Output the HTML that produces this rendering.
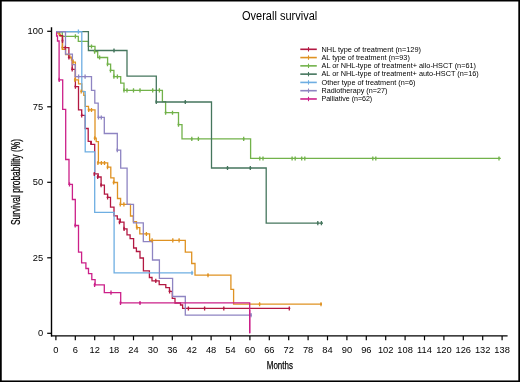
<!DOCTYPE html>
<html><head><meta charset="utf-8"><style>html,body{margin:0;padding:0;background:#fff;}svg{display:block;will-change:transform;}text{font-family:"Liberation Sans",sans-serif;}</style></head>
<body><svg width="520" height="382" viewBox="0 0 520 382" font-family="Liberation Sans, sans-serif" fill="#000"><rect x="0" y="0" width="520" height="1.5" fill="#000"/><rect x="0" y="0" width="1.75" height="382" fill="#000"/><rect x="518.3" y="0" width="1.7" height="382" fill="#000"/><rect x="0" y="380.45" width="520" height="1.55" fill="#000"/><text x="242" y="20.2" font-size="12.3" textLength="75.3" lengthAdjust="spacingAndGlyphs">Overall survival</text><line x1="51.5" y1="27.2" x2="51.5" y2="336.6" stroke="#000" stroke-width="1.4"/><line x1="51" y1="335.9" x2="507.6" y2="335.9" stroke="#000" stroke-width="1.3"/><line x1="47.2" y1="31.30" x2="51" y2="31.30" stroke="#000" stroke-width="1.2"/><text x="43.1" y="34.30" font-size="9.3" text-anchor="end">100</text><line x1="47.2" y1="106.80" x2="51" y2="106.80" stroke="#000" stroke-width="1.2"/><text x="43.1" y="109.80" font-size="9.3" text-anchor="end">75</text><line x1="47.2" y1="182.30" x2="51" y2="182.30" stroke="#000" stroke-width="1.2"/><text x="43.1" y="185.30" font-size="9.3" text-anchor="end">50</text><line x1="47.2" y1="257.80" x2="51" y2="257.80" stroke="#000" stroke-width="1.2"/><text x="43.1" y="260.80" font-size="9.3" text-anchor="end">25</text><line x1="47.2" y1="333.30" x2="51" y2="333.30" stroke="#000" stroke-width="1.2"/><text x="43.1" y="336.30" font-size="9.3" text-anchor="end">0</text><line x1="55.90" y1="336" x2="55.90" y2="340.3" stroke="#000" stroke-width="1.2"/><text x="55.90" y="352.8" font-size="9.3" text-anchor="middle">0</text><line x1="75.30" y1="336" x2="75.30" y2="340.3" stroke="#000" stroke-width="1.2"/><text x="75.30" y="352.8" font-size="9.3" text-anchor="middle">6</text><line x1="94.70" y1="336" x2="94.70" y2="340.3" stroke="#000" stroke-width="1.2"/><text x="94.70" y="352.8" font-size="9.3" text-anchor="middle">12</text><line x1="114.10" y1="336" x2="114.10" y2="340.3" stroke="#000" stroke-width="1.2"/><text x="114.10" y="352.8" font-size="9.3" text-anchor="middle">18</text><line x1="133.50" y1="336" x2="133.50" y2="340.3" stroke="#000" stroke-width="1.2"/><text x="133.50" y="352.8" font-size="9.3" text-anchor="middle">24</text><line x1="152.90" y1="336" x2="152.90" y2="340.3" stroke="#000" stroke-width="1.2"/><text x="152.90" y="352.8" font-size="9.3" text-anchor="middle">30</text><line x1="172.30" y1="336" x2="172.30" y2="340.3" stroke="#000" stroke-width="1.2"/><text x="172.30" y="352.8" font-size="9.3" text-anchor="middle">36</text><line x1="191.70" y1="336" x2="191.70" y2="340.3" stroke="#000" stroke-width="1.2"/><text x="191.70" y="352.8" font-size="9.3" text-anchor="middle">42</text><line x1="211.10" y1="336" x2="211.10" y2="340.3" stroke="#000" stroke-width="1.2"/><text x="211.10" y="352.8" font-size="9.3" text-anchor="middle">48</text><line x1="230.50" y1="336" x2="230.50" y2="340.3" stroke="#000" stroke-width="1.2"/><text x="230.50" y="352.8" font-size="9.3" text-anchor="middle">54</text><line x1="249.90" y1="336" x2="249.90" y2="340.3" stroke="#000" stroke-width="1.2"/><text x="249.90" y="352.8" font-size="9.3" text-anchor="middle">60</text><line x1="269.30" y1="336" x2="269.30" y2="340.3" stroke="#000" stroke-width="1.2"/><text x="269.30" y="352.8" font-size="9.3" text-anchor="middle">66</text><line x1="288.70" y1="336" x2="288.70" y2="340.3" stroke="#000" stroke-width="1.2"/><text x="288.70" y="352.8" font-size="9.3" text-anchor="middle">72</text><line x1="308.10" y1="336" x2="308.10" y2="340.3" stroke="#000" stroke-width="1.2"/><text x="308.10" y="352.8" font-size="9.3" text-anchor="middle">78</text><line x1="327.50" y1="336" x2="327.50" y2="340.3" stroke="#000" stroke-width="1.2"/><text x="327.50" y="352.8" font-size="9.3" text-anchor="middle">84</text><line x1="346.90" y1="336" x2="346.90" y2="340.3" stroke="#000" stroke-width="1.2"/><text x="346.90" y="352.8" font-size="9.3" text-anchor="middle">90</text><line x1="366.30" y1="336" x2="366.30" y2="340.3" stroke="#000" stroke-width="1.2"/><text x="366.30" y="352.8" font-size="9.3" text-anchor="middle">96</text><line x1="385.70" y1="336" x2="385.70" y2="340.3" stroke="#000" stroke-width="1.2"/><text x="385.70" y="352.8" font-size="9.3" text-anchor="middle">102</text><line x1="405.10" y1="336" x2="405.10" y2="340.3" stroke="#000" stroke-width="1.2"/><text x="405.10" y="352.8" font-size="9.3" text-anchor="middle">108</text><line x1="424.50" y1="336" x2="424.50" y2="340.3" stroke="#000" stroke-width="1.2"/><text x="424.50" y="352.8" font-size="9.3" text-anchor="middle">114</text><line x1="443.90" y1="336" x2="443.90" y2="340.3" stroke="#000" stroke-width="1.2"/><text x="443.90" y="352.8" font-size="9.3" text-anchor="middle">120</text><line x1="463.30" y1="336" x2="463.30" y2="340.3" stroke="#000" stroke-width="1.2"/><text x="463.30" y="352.8" font-size="9.3" text-anchor="middle">126</text><line x1="482.70" y1="336" x2="482.70" y2="340.3" stroke="#000" stroke-width="1.2"/><text x="482.70" y="352.8" font-size="9.3" text-anchor="middle">132</text><line x1="502.10" y1="336" x2="502.10" y2="340.3" stroke="#000" stroke-width="1.2"/><text x="502.10" y="352.8" font-size="9.3" text-anchor="middle">138</text><text x="266.8" y="369.2" font-size="11.5" textLength="26.1" lengthAdjust="spacingAndGlyphs" stroke="#000" stroke-width="0.25">Months</text><text transform="translate(20.3,225) rotate(-90)" x="0" y="0" font-size="12.3" textLength="86" lengthAdjust="spacingAndGlyphs" stroke="#000" stroke-width="0.25">Survival probability (%)</text><line x1="300.3" y1="49.30" x2="316.8" y2="49.30" stroke="#b31842" stroke-width="1.6"/><line x1="308.5" y1="47.10" x2="308.5" y2="51.50" stroke="#b31842" stroke-width="1.1"/><text x="321.5" y="51.60" font-size="7.6" textLength="99.5" lengthAdjust="spacingAndGlyphs">NHL type of treatment (n=129)</text><line x1="300.3" y1="57.58" x2="316.8" y2="57.58" stroke="#df9222" stroke-width="1.6"/><line x1="308.5" y1="55.38" x2="308.5" y2="59.78" stroke="#df9222" stroke-width="1.1"/><text x="321.5" y="59.88" font-size="7.6" textLength="88.3" lengthAdjust="spacingAndGlyphs">AL type of treatment (n=93)</text><line x1="300.3" y1="65.86" x2="316.8" y2="65.86" stroke="#72b24a" stroke-width="1.6"/><line x1="308.5" y1="63.66" x2="308.5" y2="68.06" stroke="#72b24a" stroke-width="1.1"/><text x="321.5" y="68.16" font-size="7.6" textLength="154.5" lengthAdjust="spacingAndGlyphs">AL or NHL-type of treatment+ allo-HSCT (n=61)</text><line x1="300.3" y1="74.14" x2="316.8" y2="74.14" stroke="#45765d" stroke-width="1.6"/><line x1="308.5" y1="71.94" x2="308.5" y2="76.34" stroke="#45765d" stroke-width="1.1"/><text x="321.5" y="76.44" font-size="7.6" textLength="157.2" lengthAdjust="spacingAndGlyphs">AL or NHL-type of treatment+ auto-HSCT (n=16)</text><line x1="300.3" y1="82.42" x2="316.8" y2="82.42" stroke="#6eaee2" stroke-width="1.6"/><line x1="308.5" y1="80.22" x2="308.5" y2="84.62" stroke="#6eaee2" stroke-width="1.1"/><text x="321.5" y="84.72" font-size="7.6" textLength="94.0" lengthAdjust="spacingAndGlyphs">Other type of treatment (n=6)</text><line x1="300.3" y1="90.70" x2="316.8" y2="90.70" stroke="#8e84c2" stroke-width="1.6"/><line x1="308.5" y1="88.50" x2="308.5" y2="92.90" stroke="#8e84c2" stroke-width="1.1"/><text x="321.5" y="93.00" font-size="7.6" textLength="65.8" lengthAdjust="spacingAndGlyphs">Radiotherapy (n=27)</text><line x1="300.3" y1="98.98" x2="316.8" y2="98.98" stroke="#cc2089" stroke-width="1.6"/><line x1="308.5" y1="96.78" x2="308.5" y2="101.18" stroke="#cc2089" stroke-width="1.1"/><text x="321.5" y="101.28" font-size="7.6" textLength="50.7" lengthAdjust="spacingAndGlyphs">Palliative (n=62)</text><path d="M56.00,31.60 L59.60,31.60 L59.60,35.60 L62.50,35.60 L62.50,47.70 L68.90,47.70 L68.90,57.50 L72.20,57.50 L72.20,69.30 L75.40,69.30 L75.40,86.70 L78.50,86.70 L78.50,109.90 L81.70,109.90 L81.70,115.40 L85.20,115.40 L85.20,128.50 L88.20,128.50 L88.20,141.30 L91.20,141.30 L91.20,144.30 L94.70,144.30 L94.70,173.90 L98.20,173.90 L98.20,177.00 L101.10,177.00 L101.10,185.20 L104.40,185.20 L104.40,194.20 L107.60,194.20 L107.60,197.40 L110.50,197.40 L110.50,207.20 L114.00,207.20 L114.00,215.80 L117.30,215.80 L117.30,219.20 L120.30,219.20 L120.30,222.20 L124.00,222.20 L124.00,228.80 L127.00,228.80 L127.00,234.80 L130.10,234.80 L130.10,238.60 L133.60,238.60 L133.60,248.00 L136.40,248.00 L136.40,251.50 L140.00,251.50 L140.00,258.00 L143.40,258.00 L143.40,270.90 L149.40,270.90 L149.40,277.50 L152.00,277.50 L152.00,280.80 L159.20,280.80 L159.20,284.70 L165.80,284.70 L165.80,287.70 L169.50,287.70 L169.50,291.40 L172.30,291.40 L172.30,298.40 L175.00,298.40 L175.00,303.00 L180.50,303.00 L180.50,305.00 L182.60,305.00 L182.60,308.40 L289.70,308.40" fill="none" stroke="#b31842" stroke-width="1.3" stroke-linejoin="miter"/><path d="M56.00,31.60 L57.70,31.60 L57.70,33.00 L59.00,33.00 L59.00,34.50 L60.50,34.50 L60.50,36.00 L62.40,36.00 L62.40,49.40 L65.60,49.40 L65.60,54.60 L69.80,54.60 L69.80,57.50 L71.50,57.50 L71.50,60.00 L73.00,60.00 L73.00,62.10 L75.40,62.10 L75.40,79.90 L78.50,79.90 L78.50,83.80 L81.80,83.80 L81.80,91.40 L83.80,91.40 L83.80,95.30 L85.20,95.30 L85.20,106.40 L88.50,106.40 L88.50,109.90 L95.00,109.90 L95.00,138.20 L96.20,138.20 L96.20,141.70 L98.40,141.70 L98.40,162.90 L107.70,162.90 L107.70,167.20 L110.80,167.20 L110.80,177.80 L114.00,177.80 L114.00,182.50 L117.50,182.50 L117.50,198.50 L120.60,198.50 L120.60,204.30 L130.50,204.30 L130.50,216.00 L133.30,216.00 L133.30,221.70 L136.50,221.70 L136.50,227.60 L139.80,227.60 L139.80,233.90 L149.60,233.90 L149.60,240.30 L185.30,240.30 L185.30,252.20 L191.70,252.20 L191.70,263.50 L195.00,263.50 L195.00,275.20 L230.90,275.20 L230.90,289.40 L233.60,289.40 L233.60,304.20 L322.00,304.20" fill="none" stroke="#df9222" stroke-width="1.3" stroke-linejoin="miter"/><path d="M56.00,31.60 L62.30,31.60 L62.30,36.30 L78.30,36.30 L78.30,41.30 L88.40,41.30 L88.40,46.40 L95.00,46.40 L95.00,51.60 L97.70,51.60 L97.70,57.50 L107.60,57.50 L107.60,64.20 L110.60,64.20 L110.60,70.40 L113.90,70.40 L113.90,76.60 L120.70,76.60 L120.70,83.10 L124.00,83.10 L124.00,90.30 L162.40,90.30 L162.40,101.60 L165.60,101.60 L165.60,112.70 L178.50,112.70 L178.50,124.60 L182.00,124.60 L182.00,138.80 L250.60,138.80 L250.60,158.40 L500.80,158.40" fill="none" stroke="#72b24a" stroke-width="1.3" stroke-linejoin="miter"/><path d="M56.00,31.60 L88.40,31.60 L88.40,50.50 L127.00,50.50 L127.00,76.20 L156.30,76.20 L156.30,102.00 L211.50,102.00 L211.50,168.00 L266.20,168.00 L266.20,223.10 L323.00,223.10" fill="none" stroke="#45765d" stroke-width="1.3" stroke-linejoin="miter"/><path d="M56.00,31.60 L81.80,31.60 L81.80,91.70 L85.20,91.70 L85.20,151.80 L94.70,151.80 L94.70,212.30 L114.10,212.30 L114.10,272.80 L193.30,272.80" fill="none" stroke="#6eaee2" stroke-width="1.3" stroke-linejoin="miter"/><path d="M56.00,31.60 L65.50,31.60 L65.50,54.10 L72.40,54.10 L72.40,64.70 L75.30,64.70 L75.30,76.60 L91.50,76.60 L91.50,90.40 L94.80,90.40 L94.80,103.20 L98.20,103.20 L98.20,117.40 L104.30,117.40 L104.30,133.50 L117.30,133.50 L117.30,150.20 L120.70,150.20 L120.70,168.10 L127.10,168.10 L127.10,204.30 L133.50,204.30 L133.50,222.90 L143.30,222.90 L143.30,241.70 L152.50,241.70 L152.50,260.00 L159.40,260.00 L159.40,278.30 L172.60,278.30 L172.60,296.50 L185.30,296.50 L185.30,315.10 L251.30,315.10" fill="none" stroke="#8e84c2" stroke-width="1.3" stroke-linejoin="miter"/><path d="M56.60,32.20 L56.60,36.00 L57.50,36.00 L57.50,41.00 L59.10,41.00 L59.10,79.80 L62.70,79.80 L62.70,109.30 L65.70,109.30 L65.70,159.50 L69.00,159.50 L69.00,184.30 L72.40,184.30 L72.40,199.50 L75.30,199.50 L75.30,225.50 L78.50,225.50 L78.50,252.10 L81.60,252.10 L81.60,262.90 L85.90,262.90 L85.90,268.50 L88.50,268.50 L88.50,273.70 L91.80,273.70 L91.80,279.60 L95.10,279.60 L95.10,284.80 L104.30,284.80 L104.30,292.60 L120.70,292.60 L120.70,302.90 L249.70,302.90 L249.70,333.30" fill="none" stroke="#cc2089" stroke-width="1.3" stroke-linejoin="miter"/><path d="M62.50,38.80V42.90M61.50,40.80H63.50" stroke="#b31842" stroke-width="1.3" fill="none"/><path d="M65.30,45.70V49.80M64.30,47.70H66.30" stroke="#b31842" stroke-width="1.3" fill="none"/><path d="M68.90,55.30V59.40M67.90,57.30H69.90" stroke="#b31842" stroke-width="1.3" fill="none"/><path d="M72.20,67.30V71.40M71.20,69.30H73.20" stroke="#b31842" stroke-width="1.3" fill="none"/><path d="M75.40,84.70V88.80M74.40,86.70H76.40" stroke="#b31842" stroke-width="1.3" fill="none"/><path d="M81.70,113.40V117.50M80.70,115.40H82.70" stroke="#b31842" stroke-width="1.3" fill="none"/><path d="M91.00,141.00V145.10M90.00,143.00H92.00" stroke="#b31842" stroke-width="1.3" fill="none"/><path d="M94.30,171.90V176.00M93.30,173.90H95.30" stroke="#b31842" stroke-width="1.3" fill="none"/><path d="M97.70,175.00V179.10M96.70,177.00H98.70" stroke="#b31842" stroke-width="1.3" fill="none"/><path d="M101.10,183.20V187.30M100.10,185.20H102.10" stroke="#b31842" stroke-width="1.3" fill="none"/><path d="M107.60,195.40V199.50M106.60,197.40H108.60" stroke="#b31842" stroke-width="1.3" fill="none"/><path d="M119.50,220.20V224.30M118.50,222.20H120.50" stroke="#b31842" stroke-width="1.3" fill="none"/><path d="M124.10,226.80V230.90M123.10,228.80H125.10" stroke="#b31842" stroke-width="1.3" fill="none"/><path d="M155.80,278.80V282.90M154.80,280.80H156.80" stroke="#b31842" stroke-width="1.3" fill="none"/><path d="M169.60,289.40V293.50M168.60,291.40H170.60" stroke="#b31842" stroke-width="1.3" fill="none"/><path d="M188.40,306.40V310.50M187.40,308.40H189.40" stroke="#b31842" stroke-width="1.3" fill="none"/><path d="M204.60,306.40V310.50M203.60,308.40H205.60" stroke="#b31842" stroke-width="1.3" fill="none"/><path d="M223.80,306.40V310.50M222.80,308.40H224.80" stroke="#b31842" stroke-width="1.3" fill="none"/><path d="M289.30,306.40V310.50M288.30,308.40H290.30" stroke="#b31842" stroke-width="1.3" fill="none"/><path d="M62.40,45.70V49.80M61.40,47.70H63.40" stroke="#df9222" stroke-width="1.3" fill="none"/><path d="M73.00,60.10V64.20M72.00,62.10H74.00" stroke="#df9222" stroke-width="1.3" fill="none"/><path d="M74.90,77.90V82.00M73.90,79.90H75.90" stroke="#df9222" stroke-width="1.3" fill="none"/><path d="M81.20,89.40V93.50M80.20,91.40H82.20" stroke="#df9222" stroke-width="1.3" fill="none"/><path d="M88.70,107.90V112.00M87.70,109.90H89.70" stroke="#df9222" stroke-width="1.3" fill="none"/><path d="M91.50,107.90V112.00M90.50,109.90H92.50" stroke="#df9222" stroke-width="1.3" fill="none"/><path d="M94.70,136.20V140.30M93.70,138.20H95.70" stroke="#df9222" stroke-width="1.3" fill="none"/><path d="M97.90,160.90V165.00M96.90,162.90H98.90" stroke="#df9222" stroke-width="1.3" fill="none"/><path d="M101.40,160.90V165.00M100.40,162.90H102.40" stroke="#df9222" stroke-width="1.3" fill="none"/><path d="M104.50,160.90V165.00M103.50,162.90H105.50" stroke="#df9222" stroke-width="1.3" fill="none"/><path d="M107.50,165.20V169.30M106.50,167.20H108.50" stroke="#df9222" stroke-width="1.3" fill="none"/><path d="M113.60,180.50V184.60M112.60,182.50H114.60" stroke="#df9222" stroke-width="1.3" fill="none"/><path d="M120.30,202.30V206.40M119.30,204.30H121.30" stroke="#df9222" stroke-width="1.3" fill="none"/><path d="M123.90,202.30V206.40M122.90,204.30H124.90" stroke="#df9222" stroke-width="1.3" fill="none"/><path d="M137.00,225.60V229.70M136.00,227.60H138.00" stroke="#df9222" stroke-width="1.3" fill="none"/><path d="M146.40,231.90V236.00M145.40,233.90H147.40" stroke="#df9222" stroke-width="1.3" fill="none"/><path d="M152.10,238.30V242.40M151.10,240.30H153.10" stroke="#df9222" stroke-width="1.3" fill="none"/><path d="M172.80,238.30V242.40M171.80,240.30H173.80" stroke="#df9222" stroke-width="1.3" fill="none"/><path d="M179.10,238.30V242.40M178.10,240.30H180.10" stroke="#df9222" stroke-width="1.3" fill="none"/><path d="M208.00,273.20V277.30M207.00,275.20H209.00" stroke="#df9222" stroke-width="1.3" fill="none"/><path d="M259.60,302.20V306.30M258.60,304.20H260.60" stroke="#df9222" stroke-width="1.3" fill="none"/><path d="M321.00,302.20V306.30M320.00,304.20H322.00" stroke="#df9222" stroke-width="1.3" fill="none"/><path d="M75.40,34.30V38.40M74.40,36.30H76.40" stroke="#72b24a" stroke-width="1.3" fill="none"/><path d="M91.50,44.40V48.50M90.50,46.40H92.50" stroke="#72b24a" stroke-width="1.3" fill="none"/><path d="M94.60,49.60V53.70M93.60,51.60H95.60" stroke="#72b24a" stroke-width="1.3" fill="none"/><path d="M99.60,55.50V59.60M98.60,57.50H100.60" stroke="#72b24a" stroke-width="1.3" fill="none"/><path d="M107.50,62.20V66.30M106.50,64.20H108.50" stroke="#72b24a" stroke-width="1.3" fill="none"/><path d="M110.50,68.40V72.50M109.50,70.40H111.50" stroke="#72b24a" stroke-width="1.3" fill="none"/><path d="M113.90,74.60V78.70M112.90,76.60H114.90" stroke="#72b24a" stroke-width="1.3" fill="none"/><path d="M117.40,74.60V78.70M116.40,76.60H118.40" stroke="#72b24a" stroke-width="1.3" fill="none"/><path d="M124.00,88.30V92.40M123.00,90.30H125.00" stroke="#72b24a" stroke-width="1.3" fill="none"/><path d="M127.00,88.30V92.40M126.00,90.30H128.00" stroke="#72b24a" stroke-width="1.3" fill="none"/><path d="M133.50,88.30V92.40M132.50,90.30H134.50" stroke="#72b24a" stroke-width="1.3" fill="none"/><path d="M140.00,88.30V92.40M139.00,90.30H141.00" stroke="#72b24a" stroke-width="1.3" fill="none"/><path d="M152.70,88.30V92.40M151.70,90.30H153.70" stroke="#72b24a" stroke-width="1.3" fill="none"/><path d="M159.40,88.30V92.40M158.40,90.30H160.40" stroke="#72b24a" stroke-width="1.3" fill="none"/><path d="M165.60,110.70V114.80M164.60,112.70H166.60" stroke="#72b24a" stroke-width="1.3" fill="none"/><path d="M172.50,110.70V114.80M171.50,112.70H173.50" stroke="#72b24a" stroke-width="1.3" fill="none"/><path d="M178.50,122.60V126.70M177.50,124.60H179.50" stroke="#72b24a" stroke-width="1.3" fill="none"/><path d="M191.80,136.80V140.90M190.80,138.80H192.80" stroke="#72b24a" stroke-width="1.3" fill="none"/><path d="M198.40,136.80V140.90M197.40,138.80H199.40" stroke="#72b24a" stroke-width="1.3" fill="none"/><path d="M243.70,136.80V140.90M242.70,138.80H244.70" stroke="#72b24a" stroke-width="1.3" fill="none"/><path d="M259.80,156.40V160.50M258.80,158.40H260.80" stroke="#72b24a" stroke-width="1.3" fill="none"/><path d="M263.00,156.40V160.50M262.00,158.40H264.00" stroke="#72b24a" stroke-width="1.3" fill="none"/><path d="M292.10,156.40V160.50M291.10,158.40H293.10" stroke="#72b24a" stroke-width="1.3" fill="none"/><path d="M295.20,156.40V160.50M294.20,158.40H296.20" stroke="#72b24a" stroke-width="1.3" fill="none"/><path d="M301.70,156.40V160.50M300.70,158.40H302.70" stroke="#72b24a" stroke-width="1.3" fill="none"/><path d="M304.80,156.40V160.50M303.80,158.40H305.80" stroke="#72b24a" stroke-width="1.3" fill="none"/><path d="M372.80,156.40V160.50M371.80,158.40H373.80" stroke="#72b24a" stroke-width="1.3" fill="none"/><path d="M375.80,156.40V160.50M374.80,158.40H376.80" stroke="#72b24a" stroke-width="1.3" fill="none"/><path d="M499.00,156.40V160.50M498.00,158.40H500.00" stroke="#72b24a" stroke-width="1.3" fill="none"/><path d="M114.00,48.50V52.60M113.00,50.50H115.00" stroke="#45765d" stroke-width="1.3" fill="none"/><path d="M156.30,100.00V104.10M155.30,102.00H157.30" stroke="#45765d" stroke-width="1.3" fill="none"/><path d="M185.30,100.00V104.10M184.30,102.00H186.30" stroke="#45765d" stroke-width="1.3" fill="none"/><path d="M227.50,166.00V170.10M226.50,168.00H228.50" stroke="#45765d" stroke-width="1.3" fill="none"/><path d="M250.30,166.00V170.10M249.30,168.00H251.30" stroke="#45765d" stroke-width="1.3" fill="none"/><path d="M317.80,221.10V225.20M316.80,223.10H318.80" stroke="#45765d" stroke-width="1.3" fill="none"/><path d="M321.40,221.10V225.20M320.40,223.10H322.40" stroke="#45765d" stroke-width="1.3" fill="none"/><path d="M78.40,29.60V33.70M77.40,31.60H79.40" stroke="#6eaee2" stroke-width="1.3" fill="none"/><path d="M192.00,270.80V274.90M191.00,272.80H193.00" stroke="#6eaee2" stroke-width="1.3" fill="none"/><path d="M78.60,74.60V78.70M77.60,76.60H79.60" stroke="#8e84c2" stroke-width="1.3" fill="none"/><path d="M85.10,74.60V78.70M84.10,76.60H86.10" stroke="#8e84c2" stroke-width="1.3" fill="none"/><path d="M98.50,115.40V119.50M97.50,117.40H99.50" stroke="#8e84c2" stroke-width="1.3" fill="none"/><path d="M101.30,115.40V119.50M100.30,117.40H102.30" stroke="#8e84c2" stroke-width="1.3" fill="none"/><path d="M117.30,148.20V152.30M116.30,150.20H118.30" stroke="#8e84c2" stroke-width="1.3" fill="none"/><path d="M251.00,313.10V317.20M250.00,315.10H252.00" stroke="#8e84c2" stroke-width="1.3" fill="none"/><path d="M59.20,77.80V81.90M58.20,79.80H60.20" stroke="#cc2089" stroke-width="1.3" fill="none"/><path d="M69.50,182.30V186.40M68.50,184.30H70.50" stroke="#cc2089" stroke-width="1.3" fill="none"/><path d="M75.20,223.50V227.60M74.20,225.50H76.20" stroke="#cc2089" stroke-width="1.3" fill="none"/><path d="M94.60,282.80V286.90M93.60,284.80H95.60" stroke="#cc2089" stroke-width="1.3" fill="none"/><path d="M111.00,290.60V294.70M110.00,292.60H112.00" stroke="#cc2089" stroke-width="1.3" fill="none"/><path d="M120.50,300.90V305.00M119.50,302.90H121.50" stroke="#cc2089" stroke-width="1.3" fill="none"/><path d="M140.00,300.90V305.00M139.00,302.90H141.00" stroke="#cc2089" stroke-width="1.3" fill="none"/><path d="M59.6,35.6 H62.5 V41" fill="none" stroke="#b31842" stroke-width="1.3"/><path d="M249.7,310 V333.3" fill="none" stroke="#cc2089" stroke-width="1.3"/></svg></body></html>
